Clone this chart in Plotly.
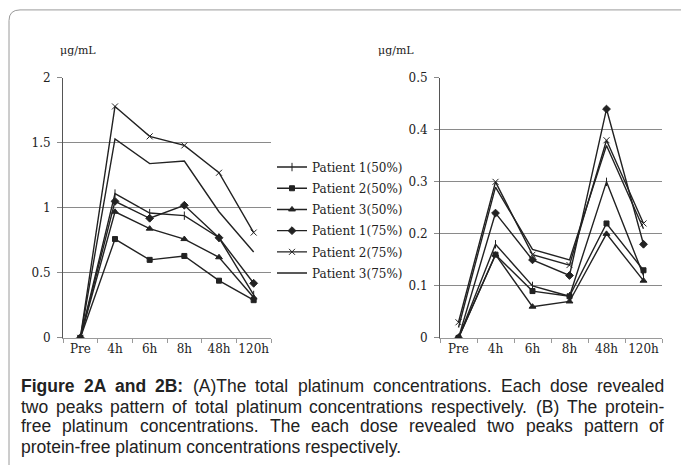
import plotly.graph_objects as go

W, H = 681, 472

categories = ["Pre", "4h", "6h", "8h", "48h", "120h"]
series_names = ["Patient 1(50%)", "Patient 2(50%)", "Patient 3(50%)",
                "Patient 1(75%)", "Patient 2(75%)", "Patient 3(75%)"]

# Figure 2A: total platinum (µg/mL)
total_p1_50 = [0, 1.11, 0.96, 0.94, 0.77, 0.33]
total_p2_50 = [0, 0.76, 0.60, 0.63, 0.44, 0.29]
total_p3_50 = [0, 0.97, 0.84, 0.76, 0.62, 0.31]
total_p1_75 = [0, 1.05, 0.92, 1.02, 0.77, 0.42]
total_p2_75 = [0, 1.78, 1.55, 1.48, 1.27, 0.81]
total_p3_75 = [0, 1.53, 1.34, 1.36, 0.97, 0.66]

# Figure 2B: protein-free platinum (µg/mL)
free_p1_50 = [0, 0.18, 0.10, 0.08, 0.30, 0.12]
free_p2_50 = [0, 0.16, 0.09, 0.08, 0.22, 0.13]
free_p3_50 = [0, 0.16, 0.06, 0.07, 0.20, 0.11]
free_p1_75 = [0, 0.24, 0.15, 0.12, 0.44, 0.18]
free_p2_75 = [0.03, 0.30, 0.16, 0.14, 0.38, 0.22]
free_p3_75 = [0.02, 0.29, 0.17, 0.15, 0.37, 0.21]

y_ticks_a = [0, 0.5, 1, 1.5, 2]
y_ticks_b = [0, 0.1, 0.2, 0.3, 0.4, 0.5]

total_series = [total_p1_50, total_p2_50, total_p3_50, total_p1_75, total_p2_75, total_p3_75]
free_series = [free_p1_50, free_p2_50, free_p3_50, free_p1_75, free_p2_75, free_p3_75]

caption_bold = "Figure 2A and 2B:"
caption_lines = [
    "Figure 2A and 2B: (A)The total platinum concentrations. Each dose revealed",
    "two peaks pattern of total platinum concentrations respectively. (B) The protein-",
    "free platinum concentrations. The each dose revealed two peaks pattern of",
    "protein-free platinum concentrations respectively.",
]

symbols = ["line-ns", "square", "triangle-up", "diamond", "x-thin", None]
sizes = [6, 5, 6, 6, 6, 0]

def px(x):
    return x / W

def py(y):
    return 1 - y / H

# Arial / Liberation Sans advance widths (1/1000 em) for justification
REG = {" ": 278, "(": 333, ")": 333, "-": 333, ".": 278, ":": 278,
       "A": 667, "B": 667, "E": 667, "T": 611, "F": 611,
       "a": 556, "b": 556, "c": 500, "d": 556, "e": 556, "f": 278, "g": 556,
       "h": 556, "i": 222, "j": 222, "k": 500, "l": 222, "m": 833, "n": 556,
       "o": 556, "p": 556, "q": 556, "r": 333, "s": 500, "t": 278, "u": 556,
       "v": 500, "w": 722, "x": 500, "y": 500, "z": 500}
BOLD = {" ": 278, "F": 611, "i": 278, "g": 611, "u": 611, "r": 389, "e": 556,
        "A": 722, "B": 722, "a": 556, "n": 611, "d": 611, ":": 333}
for d in "0123456789":
    REG[d] = 556
    BOLD[d] = 556

def text_w(s, table, size):
    return sum(table.get(c, 556) for c in s) * size / 1000.0

serif = "DejaVu Serif"
LC = "#222222"

fig = go.Figure()

for i, name in enumerate(series_names):
    sym = symbols[i]
    marker = dict(symbol=sym if sym else "circle", size=sizes[i], color=LC,
                  line=dict(color=LC, width=1))
    mode = "lines+markers" if sym else "lines"
    fig.add_trace(go.Scatter(x=categories, y=total_series[i], name=name, mode=mode,
                             line=dict(color=LC, width=1.4), marker=marker,
                             legendgroup=f"g{i}",
                             xaxis="x", yaxis="y", showlegend=True))
    fig.add_trace(go.Scatter(x=categories, y=free_series[i], name=name, mode=mode,
                             line=dict(color=LC, width=1.4), marker=marker,
                             legendgroup=f"g{i}",
                             xaxis="x2", yaxis="y2", showlegend=False))

tickfont = dict(family=serif, size=12, color="#222")
xcommon = dict(type="category", range=[-0.5, 5.5], showgrid=False, showline=True,
               linecolor="#9a9a9a", ticks="outside", ticklen=4, tickcolor="#9a9a9a",
               tickson="boundaries", tickfont=tickfont, tickangle=0, fixedrange=True)
ycommon = dict(showgrid=True, gridcolor="#8a8a8a", gridwidth=1, zeroline=False,
               showline=True, linecolor="#555", ticks="outside", ticklen=5,
               tickcolor="#8a8a8a", ticklabelstandoff=4, tickfont=tickfont,
               fixedrange=True)

Y_TOP, Y_BOT = 73, 341

fig.update_layout(
    width=W, height=H,
    margin=dict(l=0, r=0, t=0, b=0),
    paper_bgcolor="white", plot_bgcolor="white",
    showlegend=True,
    legend=dict(x=px(272), y=py(150), xanchor="left", yanchor="top",
                font=dict(family=serif, size=12, color="#222"),
                bgcolor="rgba(0,0,0,0)", itemwidth=30, tracegroupgap=2.2),
    xaxis=dict(domain=[px(63), px(271)], anchor="y", **xcommon),
    yaxis=dict(domain=[py(Y_BOT), py(Y_TOP)], range=[0, 2], anchor="x",
               tickvals=y_ticks_a, ticktext=[f"{v:g}" for v in y_ticks_a], **ycommon),
    xaxis2=dict(domain=[px(440), px(662)], anchor="y2", **xcommon),
    yaxis2=dict(domain=[py(Y_BOT), py(Y_TOP)], range=[0, 0.5], anchor="x2",
                tickvals=y_ticks_b, ticktext=[f"{v:g}" for v in y_ticks_b], **ycommon),
)

# unit labels
for xc in (78, 396):
    fig.add_annotation(x=px(xc), y=py(45), xref="paper", yref="paper",
                       text="\u03bcg/mL", showarrow=False, xanchor="center", yanchor="middle",
                       font=dict(family=serif, size=11, color="#222"))

# caption: justified lines 1-3, last line left aligned
CAP_SIZE = 17.5
cap_left, cap_right = 20, 663
cap_y = [391, 412, 432, 453]
for li, (line, yc) in enumerate(zip(caption_lines, cap_y)):
    font = dict(family="Liberation Sans", size=CAP_SIZE, color="#222")
    if li == len(caption_lines) - 1:
        fig.add_annotation(x=px(cap_left), y=py(yc), xref="paper", yref="paper",
                           text=line, showarrow=False, xanchor="left", yanchor="middle",
                           borderpad=0, font=font)
        continue
    words = line.split(" ")
    nb = len(caption_bold.split()) if li == 0 else 0
    widths = [text_w(w, BOLD if k < nb else REG, CAP_SIZE) for k, w in enumerate(words)]
    gap = (cap_right - cap_left - sum(widths)) / (len(words) - 1)
    xpos = cap_left
    for k, w in enumerate(words):
        txt = f"<b>{w}</b>" if k < nb else w
        fig.add_annotation(x=px(xpos), y=py(yc), xref="paper", yref="paper",
                           text=txt, showarrow=False, xanchor="left", yanchor="middle",
                           borderpad=0, font=font)
        xpos += widths[k] + gap

# frame with rounded top-left corner
path = (f"M {px(9)} {py(472)} L {px(9)} {py(14)} Q {px(9)} {py(3)} {px(20)} {py(3)} "
        f"L {px(681)} {py(3)}")
fig.add_shape(type="path", path=path, xref="paper", yref="paper",
              line=dict(color="#9a9a9a", width=1))

fig.write_html("out.html", config={"displayModeBar": False},
               post_script="document.body.style.margin='0';")
